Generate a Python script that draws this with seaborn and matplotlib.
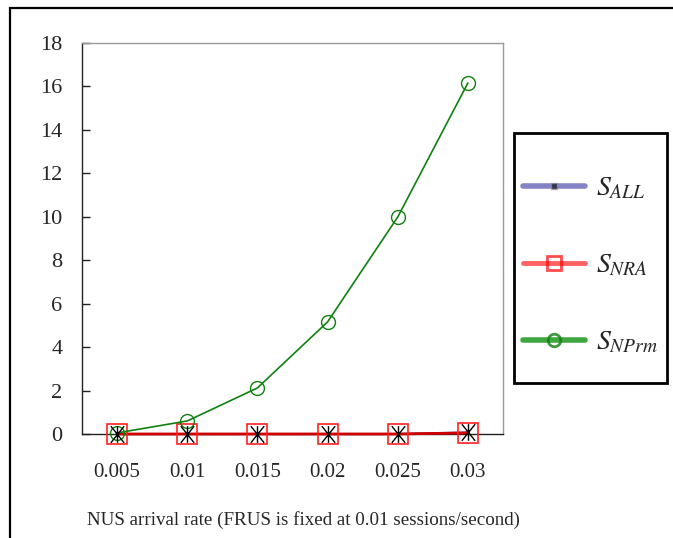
import numpy as np
import pandas as pd
import matplotlib
matplotlib.use("Agg")
import matplotlib.pyplot as plt
from matplotlib.path import Path
from matplotlib.lines import Line2D
from matplotlib.patches import Rectangle
import seaborn as sns

categories = ["0.005", "0.01", "0.015", "0.02", "0.025", "0.03"]
s_all = [0.0, 0.0, 0.0, 0.0, 0.0, 0.07]
s_nra = [0.0, 0.0, 0.0, 0.0, 0.0, 0.05]
s_nprm = [0.05, 0.6, 2.12, 5.16, 9.99, 16.16]
y_ticks = [0, 2, 4, 6, 8, 10, 12, 14, 16, 18]
x_label = "NUS arrival rate (FRUS is fixed at 0.01 sessions/second)"

sns.set_theme(style="white")
plt.rcParams["font.family"] = ["Liberation Serif", "DejaVu Serif"]
plt.rcParams["mathtext.fontset"] = "stix"

fig = plt.figure(figsize=(6.73, 5.38), dpi=100)
ax = fig.add_axes([82/673, 1-434/538, (503-82)/673, (434-43)/538])

pos = np.arange(len(categories))
df = pd.DataFrame({"pos": pos, "ALL": s_all, "NRA": s_nra, "NPrm": s_nprm})

asterisk = Path([(0, -1), (0, 1), (-0.8, -1), (0.8, 1), (-0.8, 1), (0.8, -1)],
                [Path.MOVETO, Path.LINETO, Path.MOVETO, Path.LINETO, Path.MOVETO, Path.LINETO])

sns.lineplot(data=df, x="pos", y="ALL", ax=ax, color="#3030a0", lw=1.5, zorder=2, clip_on=False)
sns.lineplot(data=df, x="pos", y="NRA", ax=ax, color="#d00000", lw=2.0, marker="s",
             markersize=15, markerfacecolor="none", markeredgecolor="#ff2020",
             markeredgewidth=1.2, zorder=3, clip_on=False)
sns.lineplot(data=df, x="pos", y="NPrm", ax=ax, color="#108010", lw=1.2, marker="o",
             markersize=10, markerfacecolor="none", markeredgecolor="#108010",
             markeredgewidth=1.0, zorder=4, clip_on=False)
sns.lineplot(data=df, x="pos", y="ALL", ax=ax, color="black", lw=0, marker=asterisk,
             markersize=12, markerfacecolor="none", markeredgecolor="black",
             markeredgewidth=1.0, zorder=5, clip_on=False)

ax.set_xlim(-0.5, len(categories) - 0.5)
ax.set_ylim(0, 18)
ax.set_yticks(y_ticks)
ax.set_yticklabels([str(t) for t in y_ticks], fontsize=16)
ax.set_xticks(pos)
ax.set_xticklabels(categories, fontsize=15)
ax.set_xticks(np.arange(0.5, len(categories) - 1, 1.0), minor=True)
ax.tick_params(axis="x", which="major", length=0, pad=21)
ax.tick_params(axis="x", which="minor", direction="in", length=6, width=1, color="#222222")
ax.tick_params(axis="y", direction="in", length=6, width=1, color="#222222", pad=14, left=True)
ax.set_xlabel("")
ax.set_ylabel("")
for s in ["left", "bottom"]:
    ax.spines[s].set_color("#222222")
    ax.spines[s].set_linewidth(1.0)
for s in ["top", "right"]:
    ax.spines[s].set_color("#999999")
    ax.spines[s].set_linewidth(1.0)

fig.text(303/673, 1-520/538, x_label, ha="center", va="center", fontsize=13.7)

# outer frame
fig.patches.append(Rectangle((10/673, -0.1), 1.2, 1.1 - 8/538, transform=fig.transFigure,
                             fill=False, edgecolor="black", lw=1.6, zorder=0))

# legend frame
lx0, lx1, ly0, ly1 = 514/673, 667/673, 1-383/538, 1-133/538
fig.patches.append(Rectangle((lx0, ly0), lx1 - lx0, ly1 - ly0, transform=fig.transFigure,
                             fill=False, edgecolor="black", lw=2, zorder=1))

handles = [
    Line2D([], [], color="#3030a0", lw=4, alpha=0.6, marker="s", markersize=5,
           markerfacecolor="black", markeredgecolor="#999999"),
    Line2D([], [], color="#ff2020", lw=3.5, alpha=0.7, marker="s", markersize=10,
           markerfacecolor="none", markeredgecolor="#ff0000", markeredgewidth=2),
    Line2D([], [], color="#109010", lw=4, alpha=0.8, marker="o", markersize=9,
           markerfacecolor="none", markeredgecolor="#108010", markeredgewidth=2),
]
labels = ["$S_{ALL}$", "$S_{NRA}$", "$S_{NPrm}$"]
leg = fig.legend(handles, labels, loc="center",
                 bbox_to_anchor=(lx0, ly0 - 8/538, lx1 - lx0, ly1 - ly0),
                 fontsize=20, frameon=False,
                 handlelength=2.2, labelspacing=1.85, borderpad=0.2, handletextpad=0.4,
                 borderaxespad=0)

fig.savefig("out.png", dpi=100)
